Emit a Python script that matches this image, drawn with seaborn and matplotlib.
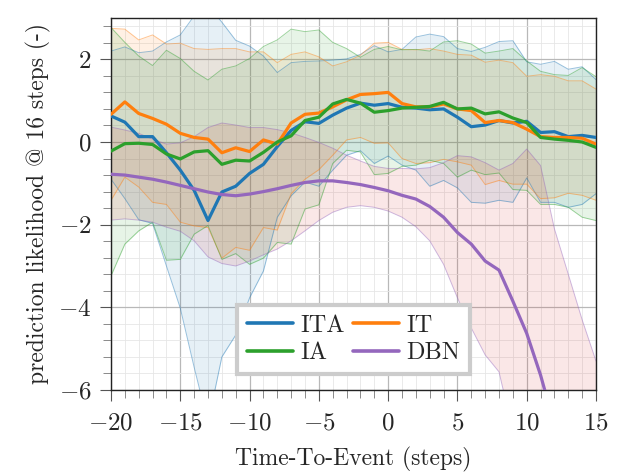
import numpy as np
import pandas as pd
import matplotlib
matplotlib.use("Agg")
import matplotlib.pyplot as plt
from matplotlib.ticker import MultipleLocator
import seaborn as sns

steps = list(range(-20, 16))
series_names = ["ITA", "IT", "IA", "DBN"]

ita_mean = [0.63, 0.48, 0.13, 0.13, -0.26, -0.68, -1.17, -1.9, -1.21, -1.07, -0.76, -0.54,
            -0.11, 0.28, 0.49, 0.45, 0.65, 0.82, 0.94, 0.89, 0.93, 0.84, 0.82, 0.78,
            0.8, 0.6, 0.37, 0.41, 0.52, 0.46, 0.5, 0.23, 0.25, 0.13, 0.16, 0.11]
it_mean = [0.67, 0.97, 0.69, 0.57, 0.43, 0.21, 0.11, 0.07, -0.26, -0.14, -0.23, 0.05,
           -0.05, 0.46, 0.67, 0.7, 0.85, 1.02, 1.15, 1.17, 1.2, 0.93, 0.85, 0.85,
           0.92, 0.8, 0.76, 0.47, 0.52, 0.47, 0.31, 0.13, 0.11, 0.11, 0.09, -0.05]
ia_mean = [-0.22, -0.04, -0.03, -0.06, -0.29, -0.41, -0.24, -0.21, -0.54, -0.44, -0.46, -0.25,
           0.0, 0.15, 0.52, 0.6, 0.92, 1.03, 0.94, 0.72, 0.76, 0.82, 0.84, 0.86,
           0.96, 0.8, 0.82, 0.68, 0.73, 0.58, 0.47, 0.11, 0.07, 0.04, 0.0, -0.13]
dbn_mean = [-0.78, -0.8, -0.85, -0.9, -0.97, -1.05, -1.13, -1.21, -1.27, -1.3, -1.26, -1.2,
            -1.13, -1.05, -0.98, -0.94, -0.94, -0.98, -1.03, -1.1, -1.18, -1.29, -1.38, -1.56,
            -1.82, -2.19, -2.47, -2.88, -3.1, -3.85, -4.63, -5.64, -6.85, -8.0, -9.1, -10.2]

ita_upper = [2.2, 2.3, 2.16, 2.2, 2.42, 2.59, 3.05, 3.3, 2.9, 2.46, 2.32, 2.08,
             1.68, 1.92, 1.95, 1.96, 1.98, 2.01, 2.12, 2.33, 2.18, 2.24, 2.54, 2.61,
             2.55, 2.26, 2.19, 2.29, 2.43, 2.45, 1.94, 1.88, 1.95, 1.76, 1.82, 1.51]
ita_lower = [-0.9, -1.37, -1.88, -1.97, -3.0, -4.02, -5.45, -6.8, -5.2, -4.67, -3.77, -3.12,
             -1.82, -1.3, -0.97, -1.07, -0.68, -0.32, -0.21, -0.52, -0.34, -0.56, -0.68, -1.07,
             -0.93, -1.11, -1.46, -1.48, -1.41, -1.46, -0.87, -1.46, -1.46, -1.58, -1.51, -1.25]
it_upper = [2.75, 2.73, 2.47, 2.59, 2.37, 2.39, 2.26, 2.24, 2.26, 2.26, 2.18, 2.18,
            1.92, 2.12, 2.18, 2.06, 1.84, 1.94, 2.1, 2.39, 2.41, 2.24, 2.23, 2.26,
            2.2, 2.12, 2.1, 1.93, 1.98, 1.92, 1.59, 1.63, 1.59, 1.48, 1.48, 1.28]
it_lower = [-1.41, -0.85, -1.09, -1.46, -1.51, -1.94, -2.03, -2.07, -2.81, -2.55, -2.62, -2.07,
            -2.13, -1.25, -0.9, -0.67, -0.32, 0.05, 0.11, -0.03, -0.02, -0.4, -0.52, -0.5,
            -0.42, -0.48, -0.56, -1.03, -0.93, -1.02, -1.02, -1.37, -1.35, -1.24, -1.29, -1.41]
ia_upper = [2.77, 2.41, 2.08, 1.85, 2.22, 2.02, 1.71, 1.5, 1.76, 1.84, 2.02, 2.31,
            2.47, 2.73, 2.67, 2.71, 2.41, 2.26, 2.05, 2.24, 2.31, 2.23, 2.24, 2.2,
            2.42, 2.45, 2.37, 2.15, 2.2, 2.26, 1.96, 1.71, 1.63, 1.61, 1.8, 1.58]
ia_lower = [-3.24, -2.47, -2.15, -1.94, -2.86, -2.84, -2.23, -2.02, -2.84, -2.7, -2.96, -2.81,
            -2.43, -2.47, -1.62, -1.52, -0.52, -0.2, -0.24, -0.79, -0.76, -0.59, -0.56, -0.44,
            -0.52, -0.85, -0.68, -0.79, -0.75, -1.15, -1.17, -1.51, -1.51, -1.58, -1.82, -1.9]
dbn_upper = [0.36, 0.29, 0.21, 0.07, -0.05, -0.02, 0.13, 0.35, 0.46, 0.41, 0.35, 0.35,
             0.3, 0.22, 0.11, -0.01, -0.15, -0.32, -0.46, -0.59, -0.64, -0.64, -0.65, -0.62,
             -0.5, -0.33, -0.36, -0.5, -0.68, -0.52, -0.17, -0.57, -2.1, -3.2, -4.3, -5.3]
dbn_lower = [-1.89, -1.86, -1.89, -1.94, -2.06, -2.16, -2.39, -2.78, -2.94, -3.0, -2.88, -2.73,
             -2.59, -2.39, -2.15, -1.9, -1.7, -1.58, -1.54, -1.58, -1.67, -1.82, -2.05, -2.39,
             -2.96, -3.77, -4.5, -5.15, -5.56, -7.0, -8.0, -9.0, -10.0, -11.0, -12.0, -13.0]

means = [ita_mean, it_mean, ia_mean, dbn_mean]
uppers = [ita_upper, it_upper, ia_upper, dbn_upper]
lowers = [ita_lower, it_lower, ia_lower, dbn_lower]
line_colors = ["#1f77b4", "#ff7f0e", "#2ca02c", "#9467bd"]
fill_colors = ["#1f77b4", "#ff7f0e", "#2ca02c", "#d62728"]

sns.set_style("white")
plt.rcParams["font.family"] = "serif"
plt.rcParams["font.serif"] = ["cmr10"]
plt.rcParams["mathtext.fontset"] = "cm"
plt.rcParams["axes.formatter.use_mathtext"] = True
plt.rcParams["axes.unicode_minus"] = True

df = pd.DataFrame({
    "step": steps * 4,
    "value": sum(means, []),
    "model": sum([[n] * len(steps) for n in series_names], []),
})

fig = plt.figure(figsize=(6.18, 4.72), dpi=100)
ax = fig.add_axes([111 / 618, 1 - 390 / 472, 485 / 618, 372 / 472])

for up, lo, fc, lc in zip(uppers, lowers, fill_colors, line_colors):
    ax.fill_between(steps, lo, up, color=fc, alpha=0.11, linewidth=0, zorder=1)
    ax.plot(steps, up, color=lc, alpha=0.45, linewidth=0.7, zorder=1.5)
    ax.plot(steps, lo, color=lc, alpha=0.45, linewidth=0.7, zorder=1.5)

sns.lineplot(data=df, x="step", y="value", hue="model", hue_order=series_names,
             palette=dict(zip(series_names, line_colors)), linewidth=2.3, ax=ax,
             zorder=3)

ax.set_xlim(-20, 15)
ax.set_ylim(-6, 3)
ax.xaxis.set_major_locator(MultipleLocator(5))
ax.xaxis.set_minor_locator(MultipleLocator(1))
ax.yaxis.set_major_locator(MultipleLocator(2))
ax.yaxis.set_minor_locator(MultipleLocator(0.4))
ax.set_axisbelow(True)
ax.grid(which="major", color="#b8b8b8", linewidth=0.9)
ax.grid(which="minor", color="#e6e6e6", linewidth=0.6)
ax.tick_params(which="major", direction="out", length=8, width=0.8, color="#555555",
               labelsize=18, pad=6, bottom=True, left=True, top=False, right=False)
ax.tick_params(which="minor", direction="out", length=5.5, width=0.6, color="#777777",
               bottom=True, left=True, top=False, right=False)
ax.tick_params(axis="x", which="major", pad=8)
for s in ax.spines.values():
    s.set_color("#222222")
    s.set_linewidth(1.0)

ax.set_xlabel("Time-To-Event (steps)", fontsize=17, labelpad=9)
ax.set_ylabel("prediction likelihood @ 16 steps (-)", fontsize=17, labelpad=5)

handles, labels = ax.get_legend_handles_labels()
lab_map = dict(zip(labels, handles))
leg_order = ["ITA", "IA", "IT", "DBN"]
leg = ax.legend([lab_map[k] for k in leg_order], leg_order, ncol=2, loc="lower center",
                bbox_to_anchor=(0.5, 0.03),
                fontsize=17.5, frameon=True, fancybox=False, framealpha=1,
                edgecolor="#cccccc", handlelength=1.9, columnspacing=0.35,
                handletextpad=0.3, borderpad=0.4, labelspacing=0.22,
                borderaxespad=0.2)
leg.get_frame().set_linewidth(3)
for h in leg.get_lines():
    h.set_linewidth(2.6)

fig.savefig("out.png", dpi=100)
